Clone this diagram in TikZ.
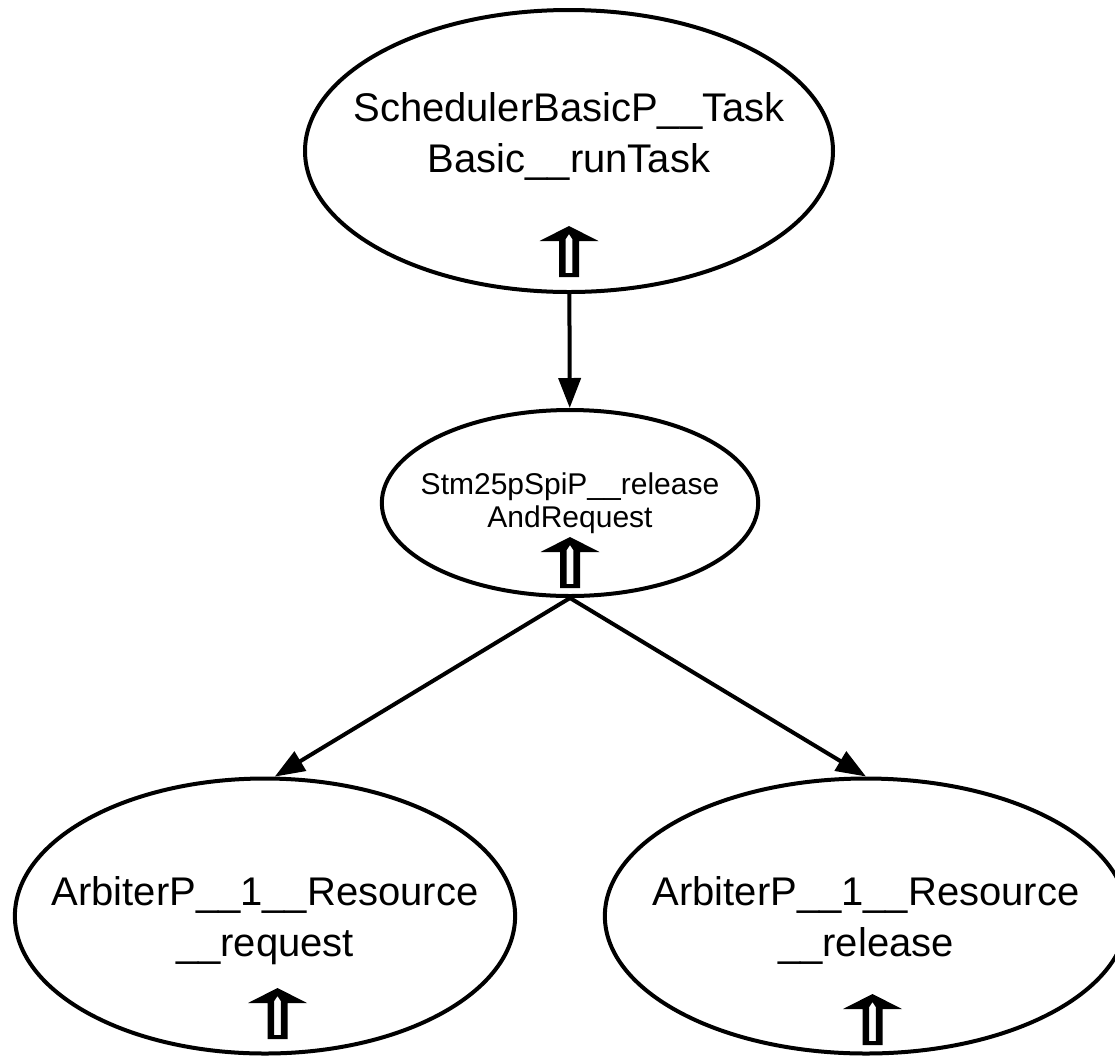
\documentclass[tikz,border=0pt]{standalone}
\usepackage{fontspec}
\setmainfont{Liberation Sans}
\usetikzlibrary{arrows.meta,shapes.geometric}

\begin{document}
\begin{tikzpicture}[x=0.5pt, y=-0.5pt,
        fn/.style    = {draw, ellipse, line width=2pt, inner ysep=0pt, align=center,
                        font=\fontsize{20}{25.5}\selectfont},
        fnsmall/.style = {draw, ellipse, line width=2pt, inner ysep=0pt, align=center,
                        font=\fontsize{15}{16.5}\selectfont},
        ar/.style    = {-{Triangle[length=15pt, width=11pt]}, line width=2pt},
        upglyph/.pic = {
            \fill[even odd rule] (-10,0) -- (10,0) -- (10,-36) -- (29.5,-36) -- (0,-51)
                -- (-29.5,-36) -- (-10,-36) -- cycle
                (-3.3,-4) -- (3.3,-4) -- (3.3,-38) -- (0,-43) -- (-3.3,-38) -- cycle;
        },
    ]
        \useasboundingbox (0,0) rectangle (1115,1056);

        % ---- nodos ----
        \node (task) [fn, minimum width=264pt, minimum height=141pt, text depth=18pt,
            inner xsep=-15.6pt] at (569, 151)
            {SchedulerBasicP\_\_Task\\Basic\_\_runTask};
        \node (rar) [fnsmall, minimum width=188pt, minimum height=93pt,
            inner xsep=-8.1pt] at (570, 503)
            {Stm25pSpiP\_\_release\\AndRequest};
        \node (req) [fn, minimum width=250pt, minimum height=137.5pt, text depth=0pt,
            inner xsep=-18.3pt] at (265, 916)
            {ArbiterP\_\_1\_\_Resource\\\_\_request};
        \node (rel) [fn, minimum width=261pt, minimum height=137.5pt, text depth=0pt,
            inner xsep=-14.4pt] at (866, 916)
            {ArbiterP\_\_1\_\_Resource\\\_\_release};

        % ---- flechas huecas ----
        \pic at ([yshift=8.5pt]task.south) {upglyph};
        \pic at ([yshift=5pt]rar.south) {upglyph};
        \pic at ([xshift=6.25pt, yshift=8.25pt]req.south) {upglyph};
        \pic at ([xshift=3.25pt, yshift=5.25pt]rel.south) {upglyph};

        % ---- llamadas ----
        \draw[ar] (task) -- (rar);
        \draw[ar] (rar.south) -- (req.86);
        \draw[ar] (rar.south) -- (rel.north);
    \end{tikzpicture}
\end{document}
